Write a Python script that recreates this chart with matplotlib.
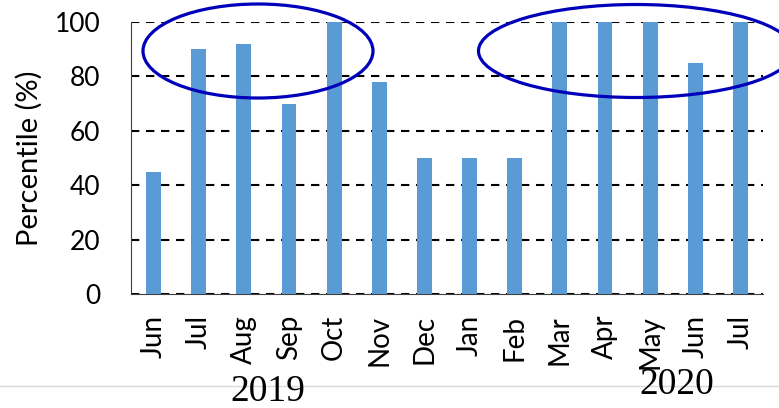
import matplotlib
matplotlib.use("Agg")
import matplotlib.pyplot as plt
from matplotlib.patches import Ellipse
from matplotlib.lines import Line2D

# data
months = ['Jun', 'Jul', 'Aug', 'Sep', 'Oct', 'Nov', 'Dec',
          'Jan', 'Feb', 'Mar', 'Apr', 'May', 'Jun', 'Jul']
percentile = [45, 90, 92, 70, 100, 78, 50, 50, 50, 100, 100, 100, 85, 100]
yticks = [0, 20, 40, 60, 80, 100]

W, H = 779, 408
fig = plt.figure(figsize=(W / 100, H / 100), dpi=100)
ax = fig.add_axes([131 / W, 1 - 294 / H, (763 - 131) / W, (294 - 22) / H])

x = range(len(months))
ax.bar(x, percentile, width=0.33, color='#5B9BD5', zorder=3)

ax.set_xlim(-0.5, len(months) - 0.5)
ax.set_ylim(0, 100)
ax.set_yticks(yticks)
ax.set_xticks(list(x))
ax.set_xticklabels(months, rotation=90, fontsize=20, family='Lato')
for t in ax.get_yticklabels():
    t.set_fontsize(19)
    t.set_family('Lato')
ax.tick_params(axis='y', length=0, pad=22)
ax.tick_params(axis='x', length=0, pad=15)

# dashed gridlines
ax.yaxis.grid(True, color='black', linestyle=(0, (4, 3.2)), linewidth=1.5, zorder=1)
ax.set_axisbelow(True)

for s in ['top', 'right']:
    ax.spines[s].set_visible(False)
ax.spines['left'].set_color('#404040')
ax.spines['bottom'].set_color('#404040')

ax.set_ylabel('Percentile (%)', fontsize=21, family='Lato')
ax.yaxis.set_label_coords(-88 / (763 - 131), 0.5)

# highlight ellipses
fig.patches.append(Ellipse((258 / W, 1 - 51 / H), 230 / W, 94 / H,
                           transform=fig.transFigure, fill=False,
                           edgecolor='#0000BB', linewidth=2.3))
fig.patches.append(Ellipse((636 / W, 1 - 51 / H), 315 / W, 93 / H,
                           transform=fig.transFigure, fill=False,
                           edgecolor='#0000BB', linewidth=2.3))

# light separator line under the chart
fig.lines.append(Line2D([0, 1], [1 - 386 / H, 1 - 386 / H],
                        transform=fig.transFigure, color='#D9D9D9', linewidth=1))

fig.text(268 / W, 1 - 392 / H, '2019', ha='center', va='center',
         fontsize=27, family='Liberation Serif')
fig.text(677 / W, 1 - 385 / H, '2020', ha='center', va='center',
         fontsize=27, family='Liberation Serif')

fig.savefig('out.png', dpi=100)
